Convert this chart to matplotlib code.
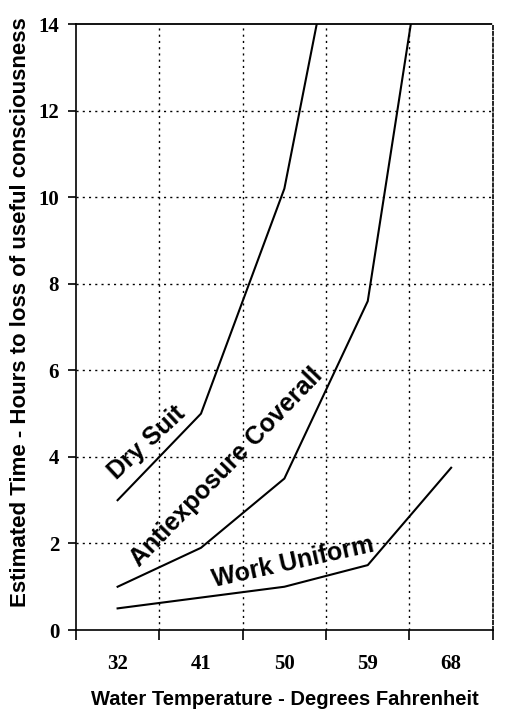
import matplotlib
matplotlib.use("Agg")
import matplotlib.pyplot as plt
from matplotlib.ticker import FixedLocator

temps = ["32", "41", "50", "59", "68"]
work_uniform = [0.5, 0.75, 1.0, 1.5, 3.75]
antiexposure = [1.0, 1.9, 3.5, 7.6, 20.0]
dry_suit = [3.0, 5.0, 10.2, 20.0]
y_ticks = [0, 2, 4, 6, 8, 10, 12, 14]

fig = plt.figure(figsize=(5.06, 7.23), dpi=100)
ax = fig.add_axes([0.150, 0.1286, 0.824, 0.838])

x = list(range(len(temps)))
ax.plot(x, work_uniform, color="black", linewidth=1.5)
ax.plot(x, antiexposure, color="black", linewidth=1.5)
ax.plot(x[:len(dry_suit)], dry_suit, color="black", linewidth=1.5)

ax.set_xlim(-0.5, len(temps) - 0.5)
ax.set_ylim(0, 14)

# category labels sit between the tick marks
ax.set_xticks(x)
ax.set_xticklabels(temps)
ax.tick_params(axis="x", which="major", length=0, pad=17)
bounds = [i - 0.5 for i in range(len(temps) + 1)]
ax.xaxis.set_minor_locator(FixedLocator(bounds))
ax.tick_params(axis="x", which="minor", length=7, width=1.2, direction="out")

ax.set_yticks(y_ticks)
ax.tick_params(axis="y", length=6, width=1.2, direction="out", pad=6)

for lab in ax.get_xticklabels() + ax.get_yticklabels():
    lab.set_family("Liberation Serif")
    lab.set_fontweight("bold")
    lab.set_fontsize(15)

# dotted grid
for b in bounds[1:-1]:
    ax.axvline(b, color="black", linestyle=(0, (1.5, 3)), linewidth=1.0, zorder=0)
for t in y_ticks[1:-1]:
    ax.axhline(t, color="black", linestyle=(0, (1.5, 3)), linewidth=1.0, zorder=0)

# top and right frame: denser dashes
ax.spines["top"].set_linestyle((0, (2.5, 1)))
ax.spines["right"].set_linestyle((0, (2, 1.5)))
ax.spines["top"].set_linewidth(1.3)
ax.spines["right"].set_linewidth(1.2)
ax.spines["left"].set_linewidth(1.2)
ax.spines["bottom"].set_linewidth(1.2)

lab_font = dict(family="Liberation Sans", fontweight="bold", fontsize=18,
                ha="center", va="center")
ax.text(0.35, 4.32, "Dry Suit", rotation=43, **lab_font)
ax.text(1.31, 3.76, "Antiexposure Coverall", rotation=46, **lab_font)
ax.text(2.10, 1.57, "Work Uniform", rotation=12.5, **lab_font)

ax.set_xlabel("Water Temperature - Degrees Fahrenheit", family="Liberation Sans",
              fontweight="bold", fontsize=14.5, labelpad=12)
ax.set_ylabel("Estimated Time - Hours to loss of useful consciousness",
              family="Liberation Sans", fontweight="bold", fontsize=16)
ax.yaxis.set_label_coords(-0.108, 0.525)

fig.savefig("out.png", dpi=100)
